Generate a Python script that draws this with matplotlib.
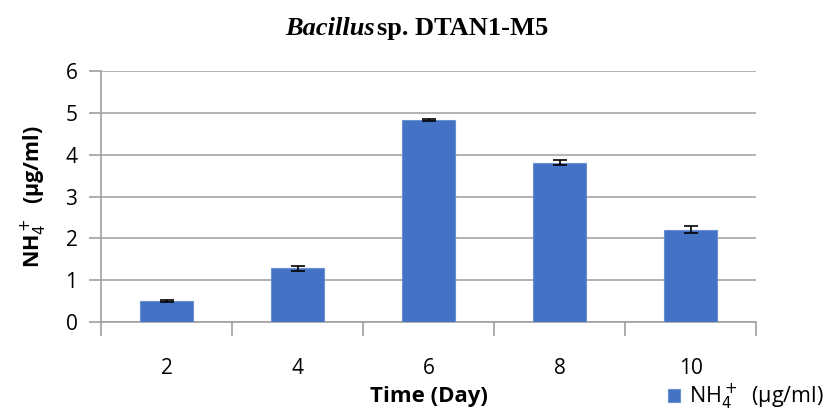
import matplotlib.pyplot as plt
import numpy as np

# Data
days = ["2", "4", "6", "8", "10"]
nh4 = [0.50, 1.29, 4.83, 3.81, 2.21]
nh4_err = [0.03, 0.06, 0.03, 0.06, 0.08]

plt.rcParams['font.family'] = ['Open Sans', 'DejaVu Sans']

fig = plt.figure(figsize=(8.24, 4.12), dpi=100)
ax = fig.add_axes([0.1226, 0.2184, 0.795, 0.609])

x = np.arange(len(days))
bars = ax.bar(x, nh4, width=0.40, color='#4472C4', edgecolor='#6a90d4', linewidth=0.8,
              yerr=nh4_err, capsize=5, error_kw=dict(ecolor='black', elinewidth=1.2, capthick=1.2),
              label=r'NH$_4^+$  (µg/ml)', zorder=3)

# Axes styling
ax.set_xlim(-0.5, len(days) - 0.5)
ax.set_ylim(0, 6)
ax.set_yticks(range(0, 7))
ax.yaxis.grid(True, color='#a6a6a6', linewidth=1.2, zorder=0)
for side in ['top', 'right']:
    ax.spines[side].set_visible(False)
ax.spines['left'].set_color('#a0a0a0')
ax.spines['bottom'].set_color('#a0a0a0')
ax.spines['left'].set_linewidth(1.2)
ax.spines['bottom'].set_linewidth(1.2)

# Category ticks between bars, labels centred under bars
ax.set_xticks(np.arange(-0.5, len(days)), minor=False)
ax.set_xticklabels([])
ax.set_xticks(x, minor=True)
ax.set_xticklabels(days, minor=True, fontsize=15)
ax.tick_params(axis='x', which='major', length=10, color='#a0a0a0', width=1.2)
ax.tick_params(axis='x', which='minor', length=0, pad=26)
ax.tick_params(axis='y', length=9, color='#a0a0a0', width=1.2, labelsize=15, pad=8)

ax.set_ylabel(r'NH$_4^+$  (µg/ml)', fontsize=15.5, fontweight='bold', labelpad=12)
ax.set_xlabel('Time (Day)', fontsize=16, fontweight='bold', labelpad=5)

# Title: italic genus + bold rest
fig.text(0.455, 0.93, 'Bacillus', family='Liberation Serif', style='italic', weight='bold',
         fontsize=19, ha='right', va='center')
fig.text(0.457, 0.93, 'sp. DTAN1-M5', family='Liberation Serif', weight='bold',
         fontsize=19, ha='left', va='center')

ax.legend(loc='lower right', bbox_to_anchor=(1.012, -0.026), bbox_transform=fig.transFigure,
          frameon=False, fontsize=15.5, handlelength=0.55, handleheight=0.55, handletextpad=0.4,
          borderaxespad=0.1)

fig.savefig('out.png', dpi=100)
